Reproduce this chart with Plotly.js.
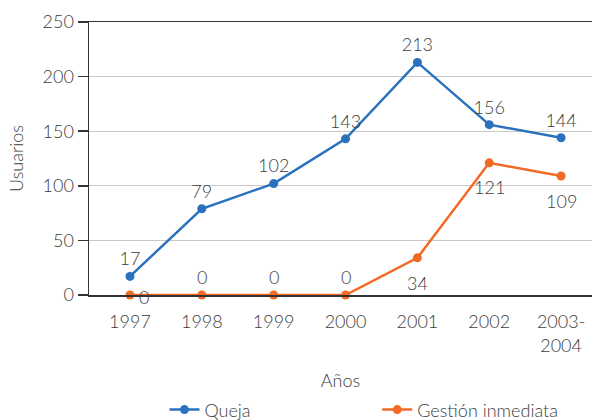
<!DOCTYPE html>
<html><head><meta charset="utf-8">
<script src="https://cdn.plot.ly/plotly-3.0.1.min.js"></script>
<style>html,body{margin:0;padding:0;background:#fff}#c{width:592px;height:420px}</style>
</head><body><div id="c"></div>
<script>
const years = ["1997","1998","1999","2000","2001","2002","2003-<br>2004"];
const queja = [17,79,102,143,213,156,144];
const gestion = [0,0,0,0,34,121,109];
const quejaPos = ["top center","top center","top center","top center","top center","top center","top center"];
// label offsets (px) for the orange series labels
const gestionDx = [14, 0, 0, 0, 0, 0, 0];
const gestionDy = [-2, 18, 18, 18, -25, -24, -25];
const fontFam = "Lato, 'Open Sans', sans-serif";
const txtColor = "#3c3c3c";
const traces = [
 {x: years, y: queja, name: "Queja", type: "scatter", mode: "lines+markers+text", legend: "legend",
  text: queja.map(String), textposition: quejaPos,
  textfont: {size: 18, color: txtColor, family: fontFam, weight: 300},
  line: {color: "#2a72bd", width: 2.5}, marker: {color: "#2a72bd", size: 9}, cliponaxis: false},
 {x: years, y: gestion, name: "Gestión inmediata", type: "scatter", mode: "lines+markers", legend: "legend2",
  line: {color: "#f26a24", width: 2.5}, marker: {color: "#f26a24", size: 9}, cliponaxis: false}
];
// on a category axis an annotation's x is the category's index
const annotations = years.map((yr, i) => ({
 x: years.indexOf(yr), y: gestion[i], xref: "x", yref: "y", text: String(gestion[i]), showarrow: false,
 xshift: gestionDx[i], yshift: gestionDy[i], xanchor: "center", yanchor: "middle",
 font: {size: 18, color: txtColor, family: fontFam, weight: 300}
}));
const legFont = {size: 18, color: txtColor, weight: 300};
const layout = {
 width: 592, height: 420,
 margin: {l: 89, r: 0, t: 22, b: 125},
 paper_bgcolor: "#fff", plot_bgcolor: "#fff",
 font: {family: fontFam, color: txtColor, size: 18, weight: 300},
 showlegend: true,
 annotations: annotations,
 legend: {orientation: "h", x: 0.15, xanchor: "left", y: 0.024, yref: "container", yanchor: "middle",
  font: legFont, bgcolor: "rgba(0,0,0,0)"},
 legend2: {orientation: "h", x: 0.573, xanchor: "left", y: 0.024, yref: "container", yanchor: "middle",
  font: legFont, bgcolor: "rgba(0,0,0,0)"},
 xaxis: {type: "category", range: [-0.57, 6.43], showgrid: false,
  showline: true, linecolor: "#333", linewidth: 1.5, mirror: true,
  ticks: "", tickfont: {size: 18, color: txtColor, weight: 300}, ticklabelstandoff: 10,
  title: {text: "Años", font: {size: 18, color: txtColor, weight: 300}, standoff: 22}},
 yaxis: {range: [0, 250], dtick: 50, showgrid: true, gridcolor: "#c8c8c8", gridwidth: 1.2,
  showline: true, linecolor: "#333", linewidth: 1.5,
  ticks: "outside", ticklen: 10, tickcolor: "#333", tickwidth: 1.5,
  tickfont: {size: 18, color: txtColor, weight: 300}, zeroline: false,
  title: {text: "Usuarios", font: {size: 18, color: txtColor, weight: 300}, standoff: 14}}
};
Plotly.newPlot("c", traces, layout, {displayModeBar: false, staticPlot: true});
</script></body></html>
